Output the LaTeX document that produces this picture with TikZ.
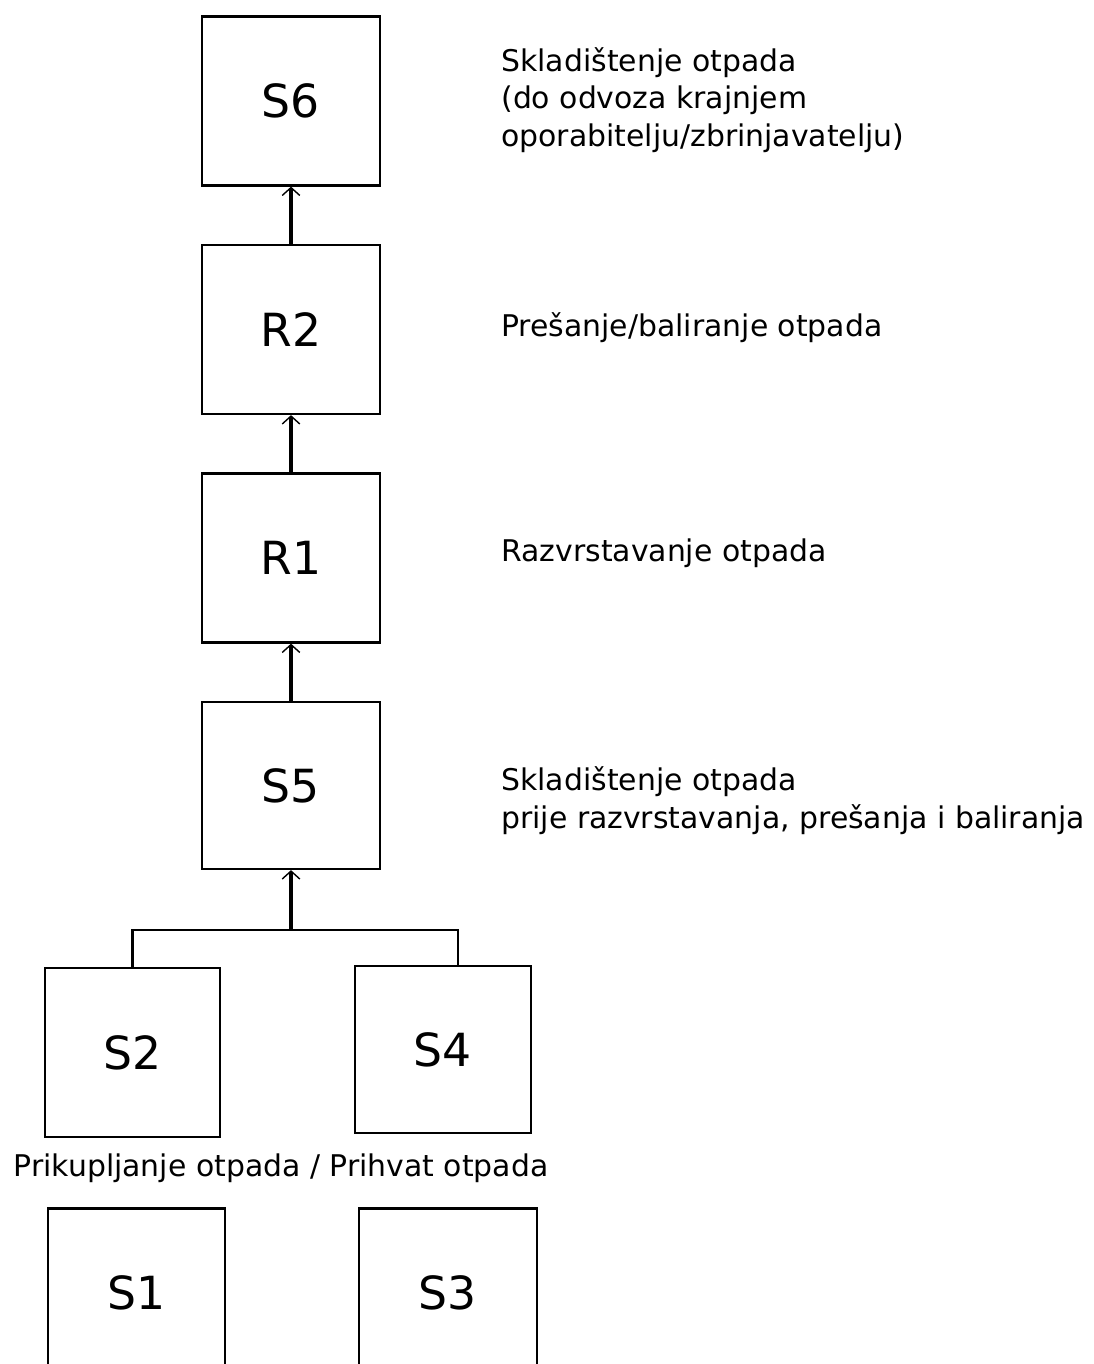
\documentclass[tikz,border=0pt]{standalone}
\usepackage{fontspec}
\setmainfont{DejaVu Sans}
\usetikzlibrary{arrows.meta}

\tikzset{
  box/.style={draw, line width=1.3pt, minimum width=3.56cm, minimum height=3.38cm, inner sep=0pt, font=\fontsize{26}{30}\selectfont},
  note/.style={anchor=west, align=left, inner sep=0pt, font=\fontsize{17}{21.5}\selectfont},
  flow/.style={line width=2.4pt, -{Straight Barb[length=4.5pt, width=10pt, line width=0.8pt]}},
}

\begin{document}
\begin{tikzpicture}[x=0.02cm, y=-0.02cm]

\useasboundingbox (0,0) rectangle (1093,1364);
\clip (0,0) rectangle (1093,1364);

% process chain
\node [box] (s6) at (291,101) {S6};
\node [box] (r2) at (291,329.5) {R2};
\node [box] (r1) at (291,558) {R1};
\node [box, minimum height=3.34cm] (s5) at (291,785.5) {S5};

\node [box, minimum width=3.5cm] (s2) at (132.5,1052.5) {S2};
\node [box, minimum width=3.52cm, minimum height=3.34cm] (s4) at (443,1049.5) {S4};
\node [box, minimum width=3.54cm] (s1) at (136.5,1293) {S1};
\node [box, minimum width=3.56cm] (s3) at (448,1293) {S3};

\draw [flow] (s5) -- (r1);
\draw [flow] (r1) -- (r2);
\draw [flow] (r2) -- (s6);

% collection into S5
\coordinate (brR) at (458,930);
\coordinate (join) at (s5.south |- brR);
\draw [line width=1.2pt] (s2.north) |- (brR) -- (brR |- s4.north);
\draw [flow] (join) -- (s5.south);

% descriptions
\node [note] (t6) at (501,100) {Skladištenje otpada\\(do odvoza krajnjem\\oporabitelju/zbrinjavatelju)};
\node [note] (t2) at (501,328) {Prešanje/baliranje otpada};
\node [note] (t1) at (501,553) {Razvrstavanje otpada};
\node [note] (t5) at (501,801) {Skladištenje otpada\\prije razvrstavanja, prešanja i baliranja};
\node [font=\fontsize{17}{21.5}\selectfont, inner sep=0pt] (tc) at (281,1168) {Prikupljanje otpada / Prihvat otpada};

\end{tikzpicture}
\end{document}
